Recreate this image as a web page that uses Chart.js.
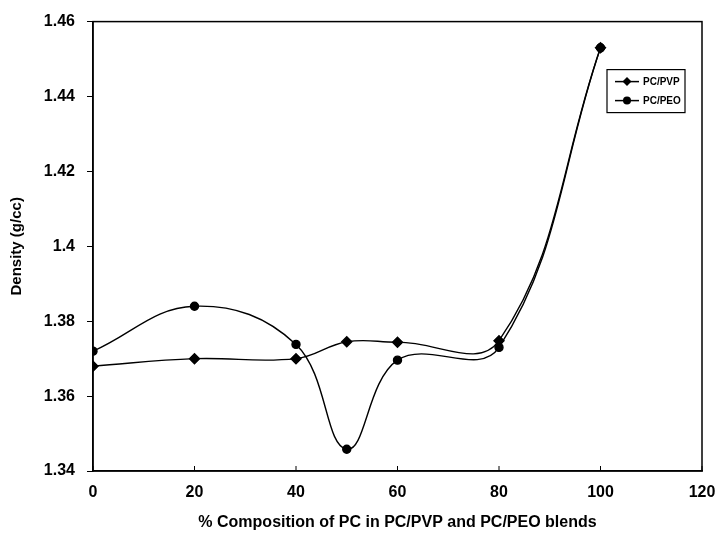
<!DOCTYPE html>
<html>
<head>
<meta charset="utf-8">
<script src="https://cdn.jsdelivr.net/npm/chart.js@4.4.0/dist/chart.umd.min.js"></script>
<style>
  html, body { margin: 0; padding: 0; background: #fff; }
  #wrap { width: 715px; height: 536px; }
</style>
</head>
<body>
<div id="wrap"><canvas id="chart" width="715" height="536"></canvas></div>
<script>
// DATA
const composition = [0, 20, 40, 50, 60, 80, 100];
const pcPvp = [1.368, 1.370, 1.370, 1.3745, 1.3744, 1.3748, 1.453];
const pcPeo = [1.372, 1.384, 1.3738, 1.3458, 1.3696, 1.373, 1.453];
const xTicks = [0, 20, 40, 60, 80, 100, 120];
const yTicks = [1.34, 1.36, 1.38, 1.40, 1.42, 1.44, 1.46];
const seriesNames = ["PC/PVP", "PC/PEO"];

const FONT = "'Liberation Sans', Arial, sans-serif";

function toPoints(ys) {
  return composition.map((x, i) => ({ x: x, y: ys[i] }));
}

// frame round the plot + inward ticks on x axis
const framePlugin = {
  id: "frame",
  afterDraw(chart) {
    const { ctx, chartArea: a, scales } = chart;
    ctx.save();
    ctx.strokeStyle = "#000";
    ctx.lineWidth = 1.5;
    ctx.strokeRect(a.left, a.top, a.right - a.left, a.bottom - a.top);
    ctx.lineWidth = 1;
    xTicks.forEach(v => {
      const px = scales.x.getPixelForValue(v);
      ctx.beginPath();
      ctx.moveTo(px, a.bottom);
      ctx.lineTo(px, a.bottom - 5);
      ctx.stroke();
    });
    ctx.restore();
  }
};

// legend box in the top right of the plot
const legendPlugin = {
  id: "boxLegend",
  afterDraw(chart) {
    const { ctx, chartArea: a } = chart;
    const bx = a.right - 95, by = a.top + 48, bw = 78, bh = 43;
    ctx.save();
    ctx.fillStyle = "#fff";
    ctx.fillRect(bx, by, bw, bh);
    ctx.strokeStyle = "#000";
    ctx.lineWidth = 1.2;
    ctx.strokeRect(bx, by, bw, bh);
    chart.data.datasets.forEach((ds, i) => {
      const y = by + 12 + i * 19;
      ctx.lineWidth = 1.5;
      ctx.beginPath();
      ctx.moveTo(bx + 8, y);
      ctx.lineTo(bx + 32, y);
      ctx.stroke();
      ctx.fillStyle = "#000";
      ctx.beginPath();
      if (ds.pointStyle === "rectRot") {
        ctx.moveTo(bx + 20, y - 4.5);
        ctx.lineTo(bx + 24.5, y);
        ctx.lineTo(bx + 20, y + 4.5);
        ctx.lineTo(bx + 15.5, y);
        ctx.closePath();
      } else {
        ctx.arc(bx + 20, y, 4, 0, Math.PI * 2);
      }
      ctx.fill();
      ctx.font = "bold 10px " + FONT;
      ctx.textBaseline = "middle";
      ctx.fillText(ds.label, bx + 36, y + 1);
    });
    ctx.restore();
  }
};

const lineStyle = {
  borderColor: "#000",
  backgroundColor: "#000",
  borderWidth: 1.4,
  pointBorderColor: "#000",
  pointBackgroundColor: "#000",
  tension: 0.4,
  fill: false
};

new Chart(document.getElementById("chart").getContext("2d"), {
  type: "line",
  data: {
    datasets: [
      Object.assign({ label: seriesNames[0], data: toPoints(pcPvp), pointStyle: "rectRot", pointRadius: 5 }, lineStyle),
      Object.assign({ label: seriesNames[1], data: toPoints(pcPeo), pointStyle: "circle", pointRadius: 4 }, lineStyle)
    ]
  },
  options: {
    responsive: false,
    animation: false,
    layout: { padding: { top: 21, right: 0, left: 0, bottom: 0 } },
    plugins: { legend: { display: false }, tooltip: { enabled: false } },
    scales: {
      x: {
        type: "linear",
        min: 0,
        max: 120,
        afterBuildTicks: s => { s.ticks = xTicks.map(v => ({ value: v })); },
        afterFit: s => { s.height = 65; s.paddingRight = 13; },
        grid: { drawOnChartArea: false, drawTicks: false },
        border: { color: "#000", width: 1.5 },
        ticks: { color: "#000", padding: 12, maxRotation: 0, font: { family: FONT, size: 16, weight: "bold" } },
        title: { display: true, text: "% Composition of PC in PC/PVP and PC/PEO blends", color: "#000", padding: { top: 4 }, font: { family: FONT, size: 16, weight: "bold" } }
      },
      y: {
        min: 1.34,
        max: 1.46,
        afterBuildTicks: s => { s.ticks = yTicks.map(v => ({ value: v })); },
        afterFit: s => { s.width = 93; },
        grid: { drawOnChartArea: false, drawTicks: true, tickLength: 6, color: "#000" },
        border: { color: "#000", width: 1.5 },
        ticks: { color: "#000", padding: 12, font: { family: FONT, size: 16, weight: "bold" }, callback: v => String(+v.toFixed(2)) },
        title: { display: true, text: "Density (g/cc)", color: "#000", padding: { top: 8, bottom: 4 }, font: { family: FONT, size: 15, weight: "bold" } }
      }
    }
  },
  plugins: [framePlugin, legendPlugin]
});
</script>
</body>
</html>
